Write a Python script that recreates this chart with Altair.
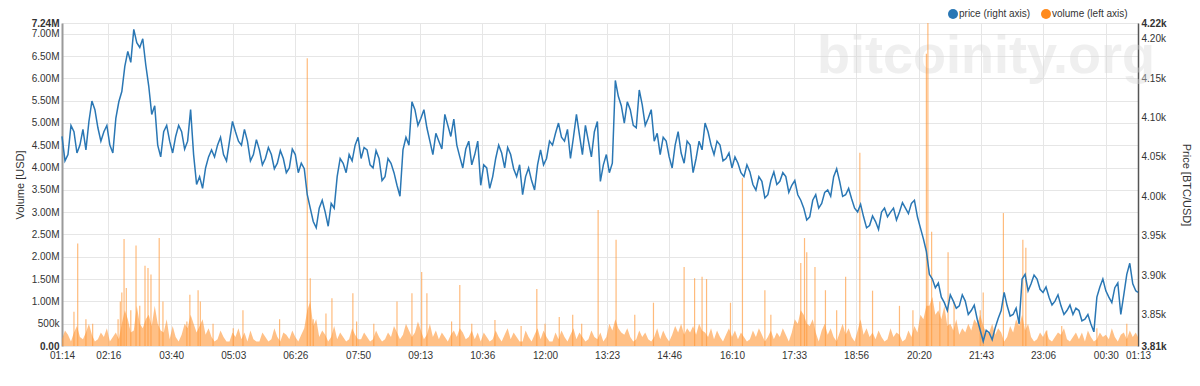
import altair as alt
import pandas as pd

# ---------------- data ----------------
START = "2018-12-05T01:14:00Z"
SPAN_MIN = 1439  # 01:14 -> 01:13 next day

# price read every 8 minutes from 01:14 (+ final point at 01:13), BTC/USD
PRICE = [
    4076, 4053, 4082, 4065, 4059, 4121, 4087, 4082, 4065, 4099,
    4133, 4184, 4212, 4189, 4167, 4104, 4065, 4082, 4070, 4076,
    4082, 4070, 4053, 4025, 4036, 4059, 4065, 4053, 4070, 4082,
    4065, 4070, 4053, 4059, 4048, 4053, 4042, 4048, 4036, 4053,
    4042, 4002, 3968, 3985, 3980, 3991, 4025, 4042, 4053, 4065,
    4048, 4059, 4036, 4048, 4025, 4042, 4014, 4059, 4065, 4110,
    4099, 4087, 4053, 4070, 4104, 4076, 4065, 4036, 4070, 4053,
    4014, 4036, 4025, 4065, 4036, 4053, 4025, 4002, 4036, 4008,
    4059, 4048, 4065, 4093, 4070, 4048, 4104, 4053, 4070, 4082,
    4019, 4053, 4042, 4127, 4093, 4110, 4087, 4116, 4099, 4070,
    4053, 4070, 4036, 4082, 4042, 4065, 4048, 4059, 4082, 4053,
    4065, 4048, 4036, 4042, 4025, 4031, 4008, 4019, 4002, 4031,
    4019, 4025, 4014, 4002, 3985, 3974, 4002, 3991, 4008, 4025,
    4019, 4002, 3997, 3980, 3974, 3963, 3968, 3980, 3974, 3985,
    3980, 3985, 3991, 3974, 3946, 3901, 3884, 3872, 3855, 3867,
    3861, 3867, 3855, 3844, 3816, 3827, 3833, 3855, 3861, 3850,
    3838, 3901, 3889, 3895, 3878, 3872, 3867, 3861, 3855, 3850,
    3855, 3844, 3838, 3872, 3895, 3872, 3884, 3850, 3901, 3889,
    3878,
]
# price read half-way between those samples (minute 4, 12, 20, ...)
PRICE_MID = [
    4045, 4090, 4055, 4085, 4095, 4110, 4070, 4090, 4055, 4120,
    4165, 4170, 4195, 4200, 4140, 4115, 4050, 4090, 4055, 4090,
    4060, 4110, 4015, 4010, 4050, 4050, 4075, 4045, 4095, 4070,
    4085, 4045, 4072, 4040, 4062, 4035, 4058, 4030, 4060, 4030,
    4035, 3985, 3960, 3995, 3962, 3985, 4048, 4030, 4045, 4075,
    4062, 4040, 4058, 4020, 4048, 4030, 4000, 4075, 4120, 4090,
    4110, 4070, 4080, 4060, 4090, 4098, 4050, 4060, 4040, 4070,
    4040, 4010, 4048, 4055, 4062, 4035, 4040, 4025, 4020, 4040,
    4040, 4070, 4080, 4075, 4085, 4075, 4078, 4090, 4050, 4095,
    4040, 4030, 4147, 4115, 4120, 4090, 4135, 4090, 4110, 4080,
    4075, 4050, 4065, 4055, 4070, 4030, 4070, 4093, 4065, 4070,
    4045, 4055, 4050, 4030, 4040, 4015, 4025, 3998, 4020, 4015,
    4030, 4005, 4020, 3995, 3970, 3995, 3985, 4005, 4000, 4035,
    4000, 4010, 3985, 3990, 3960, 3975, 3958, 3985, 3980, 3970,
    3992, 3978, 3995, 3960, 3930, 3895, 3890, 3865, 3875, 3858,
    3875, 3850, 3862, 3830, 3830, 3818, 3845, 3878, 3848, 3858,
    3895, 3880, 3900, 3882, 3885, 3862, 3875, 3850, 3862, 3858,
    3842, 3850, 3828, 3885, 3880, 3865, 3890, 3875, 3915, 3880,
]

# background volume (millions USD) every 8 minutes (+ final point)
VOL_BASE = [
    0.15, 0.25, 0.3, 0.2, 0.3, 0.25, 0.15, 0.2, 0.1, 0.3,
    0.5, 0.6, 0.35, 0.5, 0.6, 0.45, 0.5, 0.3, 0.15, 0.2,
    0.25, 0.4, 0.5, 0.45, 0.25, 0.2, 0.15, 0.2, 0.1, 0.2,
    0.15, 0.1, 0.15, 0.1, 0.2, 0.15, 0.2, 0.3, 0.15, 0.2,
    0.25, 0.8, 0.45, 0.2, 0.25, 0.2, 0.15, 0.2, 0.15, 0.25,
    0.15, 0.2, 0.15, 0.2, 0.15, 0.2, 0.3, 0.25, 0.35, 0.3,
    0.35, 0.25, 0.2, 0.15, 0.2, 0.25, 0.2, 0.3, 0.2, 0.15,
    0.1, 0.2, 0.15, 0.2, 0.25, 0.15, 0.2, 0.1, 0.2, 0.25,
    0.15, 0.2, 0.1, 0.15, 0.2, 0.25, 0.15, 0.2, 0.15, 0.2,
    0.3, 0.2, 0.35, 0.4, 0.25, 0.2, 0.15, 0.2, 0.15, 0.2,
    0.15, 0.2, 0.25, 0.3, 0.25, 0.3, 0.25, 0.35, 0.2, 0.15,
    0.2, 0.25, 0.2, 0.15, 0.2, 0.15, 0.2, 0.25, 0.2, 0.15,
    0.2, 0.25, 0.3, 0.5, 0.7, 0.45, 0.3, 0.35, 0.25, 0.2,
    0.3, 0.25, 0.2, 0.35, 0.25, 0.2, 0.15, 0.2, 0.15, 0.2,
    0.25, 0.15, 0.2, 0.3, 0.6, 0.9, 0.7, 0.6, 0.45, 0.35,
    0.25, 0.3, 0.35, 0.5, 0.45, 0.3, 0.25, 0.3, 0.2, 0.3,
    0.45, 0.35, 0.2, 0.15, 0.2, 0.15, 0.2, 0.25, 0.15, 0.2,
    0.15, 0.1, 0.2, 0.15, 0.2, 0.15, 0.2, 0.25, 0.15, 0.2,
    0.2,
]
# volume half-way between those samples
VOL_MID = [
    0.35, 0.1, 0.45, 0.15, 0.5, 0.1, 0.3, 0.4, 0.2, 0.15,
    0.8, 0.3, 0.9, 0.4, 0.7, 0.9, 0.35, 0.6, 0.45, 0.1,
    0.5, 0.7, 0.3, 0.6, 0.4, 0.1, 0.35, 0.1, 0.3, 0.4,
    0.3, 0.35, 0.1, 0.3, 0.1, 0.4, 0.1, 0.25, 0.35, 0.1,
    0.4, 1.0, 0.6, 0.35, 0.1, 0.45, 0.3, 0.1, 0.4, 0.15,
    0.3, 0.1, 0.35, 0.1, 0.3, 0.45, 0.15, 0.5, 0.2, 0.55,
    0.15, 0.5, 0.35, 0.3, 0.1, 0.35, 0.4, 0.15, 0.35, 0.3,
    0.3, 0.1, 0.35, 0.1, 0.4, 0.3, 0.1, 0.35, 0.1, 0.4,
    0.35, 0.1, 0.3, 0.35, 0.1, 0.4, 0.3, 0.1, 0.35, 0.15,
    0.1, 0.5, 0.6, 0.3, 0.4, 0.1, 0.35, 0.3, 0.1, 0.4,
    0.35, 0.1, 0.45, 0.5, 0.4, 0.45, 0.5, 0.3, 0.4, 0.35,
    0.1, 0.4, 0.35, 0.3, 0.1, 0.35, 0.4, 0.1, 0.35, 0.3,
    0.4, 0.1, 0.6, 0.8, 0.5, 0.6, 0.1, 0.5, 0.4, 0.1,
    0.5, 0.4, 0.1, 0.6, 0.4, 0.3, 0.35, 0.1, 0.4, 0.3,
    0.1, 0.35, 0.45, 0.7, 0.9, 1.1, 0.8, 0.9, 0.5, 0.6,
    0.4, 0.5, 0.6, 0.7, 0.3, 0.5, 0.4, 0.1, 0.45, 0.6,
    0.7, 0.5, 0.1, 0.3, 0.35, 0.1, 0.3, 0.4, 0.1, 0.3,
    0.3, 0.35, 0.1, 0.3, 0.25, 0.4, 0.1, 0.3, 0.35, 0.3,
]

# volume spikes: minute after 01:14, height in millions USD
SPIKE_MIN = [16, 21, 32, 41, 75, 78, 80, 83, 86, 92, 99, 104, 111, 115, 119,
             130, 135, 167, 171, 182, 185, 202, 229, 242, 291, 328, 332, 336,
             353, 361, 389, 394, 417, 448, 468, 481, 488, 521, 532, 548, 579,
             614, 635, 646, 665, 683, 695, 717, 741, 766, 791, 832, 846, 856,
             862, 894, 910, 940, 948, 988, 993, 996, 1007, 1021, 1036, 1048,
             1067, 1084, 1120, 1138, 1156, 1158, 1163, 1174, 1185, 1193, 1228,
             1232, 1259, 1285, 1289, 1317, 1337, 1384, 1424]
SPIKE_VAL = [0.77, 2.3, 0.6, 0.5, 0.6, 1.0, 1.2, 2.4, 1.3, 0.8, 2.25, 0.9, 1.8,
             1.75, 1.6, 2.42, 1.0, 0.55, 1.15, 1.25, 1.0, 0.5, 0.4, 0.8, 0.6,
             6.45, 1.52, 0.6, 0.73, 1.07, 1.18, 0.55, 0.5, 1.0, 1.18, 1.66,
             1.18, 0.55, 1.37, 0.5, 0.58, 0.45, 1.28, 0.5, 0.65, 0.7, 0.5, 3.05,
             2.38, 0.7, 0.97, 1.77, 1.52, 1.55, 1.5, 0.97, 3.77, 1.25, 0.7, 1.86,
             2.42, 2.1, 1.77, 1.25, 0.8, 1.55, 4.33, 1.24, 0.9, 0.8, 6.55, 7.24,
             2.56, 1.0, 2.1, 1.0, 0.8, 1.2, 2.98, 2.38, 2.2, 0.35, 0.45, 0.4, 0.5]

# x tick positions (minutes after 01:14)
TICK_MIN = [0, 62, 146, 229, 312, 396, 479, 562, 646, 729, 812, 896, 979,
            1062, 1146, 1229, 1312, 1396, 1439]
VOL_TICKS = [0, 0.5, 1.0, 1.5, 2.0, 2.5, 3.0, 3.5, 4.0, 4.5, 5.0, 5.5, 6.0,
             6.5, 7.0, 7.24]
PRICE_TICKS = [3810, 3850, 3900, 3950, 4000, 4050, 4100, 4150, 4200, 4220]
SERIES = ["price (right axis)", "volume (left axis)"]

# ---------------- build tables ----------------
T0 = pd.Timestamp(START).value // 10**6
MS = 60000
T1 = T0 + SPAN_MIN * MS


def interleave(main, mid):
    mins, vals = [], []
    for i, m in enumerate(mid):
        mins += [8 * i, 8 * i + 4]
        vals += [main[i], m]
    mins.append(SPAN_MIN)
    vals.append(main[-1])
    return [T0 + m * MS for m in mins], vals


pt, pv = interleave(PRICE, PRICE_MID)
price_df = pd.DataFrame({"t": pt, "p": pv})
vt, vv = interleave(VOL_BASE, VOL_MID)
vol_df = pd.DataFrame({"t": vt, "v": vv})
spike_df = pd.DataFrame({"t": [T0 + m * MS for m in SPIKE_MIN], "v": SPIKE_VAL})
TICKS = [T0 + m * MS for m in TICK_MIN]

BLUE = "#2a77b4"
ORANGE = "#ff9636"
FONT = "Liberation Sans"
LBL = "#333333"

xscale = alt.Scale(type="utc", domain=[T0, T1], nice=False)
xaxis = alt.Axis(
    values=TICKS,
    labelExpr="utcFormat(datum.value, '%H:%M')",
    labelFontWeight={"condition": {"test": f"datum.value == {T0} || datum.value == {T1}",
                                   "value": "bold"}, "value": "normal"},
    labelOverlap=False, labelFlush=False, labelPadding=4, labelFontSize=10,
    labelColor=LBL, labelFont=FONT, grid=True, gridColor="#e6e6e6",
    domain=False, ticks=False, title=None,
)
X = alt.X("t:T", scale=xscale, axis=xaxis)

vol_axis = alt.Axis(
    orient="left", values=VOL_TICKS, title="Volume [USD]",
    labelExpr="datum.value == 0 ? '0.00' : (datum.value < 1 ? format(datum.value * 1000, 'd') + 'k' : format(datum.value, '.2f') + 'M')",
    labelFontWeight={"condition": {"test": "datum.value == 0 || datum.value == 7.24",
                                   "value": "bold"}, "value": "normal"},
    labelOverlap=False, labelFontSize=10, labelColor=LBL, labelFont=FONT,
    labelPadding=3, ticks=False, grid=True, gridColor="#e6e6e6",
    domainColor="#9a9a9a", domainWidth=2,
    titleFont=FONT, titleFontSize=11, titleFontWeight="normal", titleColor=LBL,
    titlePadding=6,
)
vscale = alt.Scale(domain=[0, 7.24], nice=False, zero=True)

watermark = alt.Chart(pd.DataFrame({"w": ["bitcoinity.org"]})).mark_text(
    fontSize=54, fontWeight="bold", color="#d8d8d8", opacity=0.4,
    align="center", baseline="alphabetic", font=FONT,
).encode(x=alt.value(924), y=alt.value(50), text="w:N")

vol_area = alt.Chart(vol_df).mark_area(
    color=ORANGE, opacity=0.6, interpolate="linear"
).encode(x=X, y=alt.Y("v:Q", scale=vscale, axis=vol_axis))

vol_spikes = alt.Chart(spike_df).mark_rule(
    color=ORANGE, opacity=0.65, strokeWidth=1.2
).encode(x=X, y=alt.Y("v:Q", scale=vscale, axis=vol_axis), y2=alt.datum(0))

price_axis = alt.Axis(
    orient="right", values=PRICE_TICKS, title="Price [BTC/USD]",
    labelExpr="format(datum.value / 1000, '.2f') + 'k'",
    labelFontWeight={"condition": {"test": "datum.value == 3810 || datum.value == 4220",
                                   "value": "bold"}, "value": "normal"},
    labelOverlap=False, labelFontSize=10, labelColor=LBL, labelFont=FONT,
    labelPadding=3, labelAlign="left", ticks=False, grid=False,
    domainColor="#555555", domainWidth=1.5,
    titleFont=FONT, titleFontSize=11, titleFontWeight="normal", titleColor=LBL,
    titlePadding=14, titleAngle=90,
)
price_line = alt.Chart(price_df).mark_line(
    color=BLUE, strokeWidth=1.5, interpolate="linear"
).encode(
    x=X,
    y=alt.Y("p:Q", scale=alt.Scale(domain=[3810, 4220], nice=False, zero=False),
            axis=price_axis),
)

legend_layer = alt.Chart(pd.DataFrame({"s": SERIES})).mark_circle(size=90).encode(
    x=alt.value(-600), y=alt.value(-600),
    color=alt.Color(
        "s:N",
        scale=alt.Scale(domain=SERIES, range=[BLUE, "#ff8a1c"]),
        legend=alt.Legend(
            orient="none", legendX=886, legendY=-14, direction="horizontal",
            title=None, symbolType="circle", symbolSize=100, symbolOpacity=1,
            labelFontSize=10, labelColor=LBL, labelFont=FONT,
            labelOffset=1, columnPadding=10, symbolStrokeWidth=0,
        ),
    ),
)

left = alt.layer(watermark, vol_area, vol_spikes)
chart = alt.layer(left, price_line, legend_layer).resolve_scale(
    y="independent"
).properties(
    width=1076, height=323,
    autosize=alt.AutoSizeParams(type="none"),
    padding={"left": 54, "top": 15, "right": 54, "bottom": 32},
    background="white",
).configure_view(stroke=None)

chart.save("out.html", embed_options={"renderer": "svg", "actions": False})
